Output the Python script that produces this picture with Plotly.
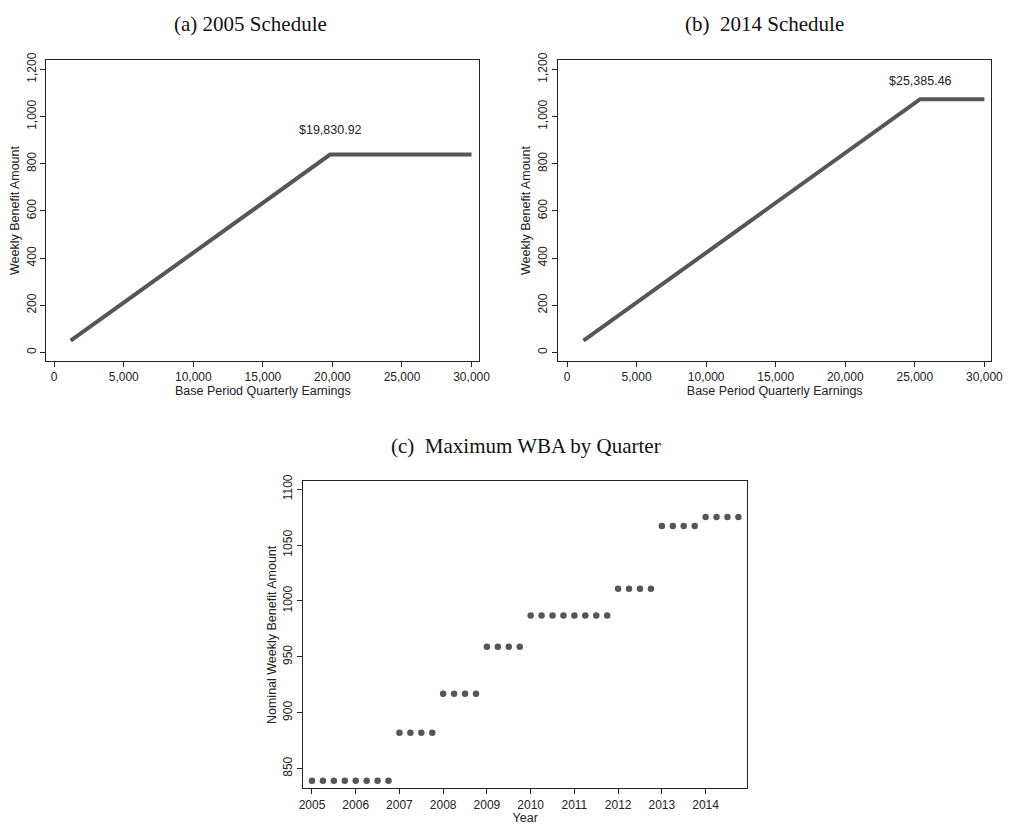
import plotly.graph_objects as go

W, H = 1019, 825

# Panel (a): 2005 schedule
a_earnings = [1181.82, 19830.92, 30000]
a_wba = [50, 839, 839]
a_kink_label = "$19,830.92"

# Panel (b): 2014 schedule
b_earnings = [1181.82, 25385.46, 30000]
b_wba = [50, 1074, 1074]
b_kink_label = "$25,385.46"

# Panel (c): maximum WBA by quarter
c_quarters = [2005.00, 2005.25, 2005.50, 2005.75, 2006.00, 2006.25, 2006.50, 2006.75,
              2007.00, 2007.25, 2007.50, 2007.75, 2008.00, 2008.25, 2008.50, 2008.75,
              2009.00, 2009.25, 2009.50, 2009.75, 2010.00, 2010.25, 2010.50, 2010.75,
              2011.00, 2011.25, 2011.50, 2011.75, 2012.00, 2012.25, 2012.50, 2012.75,
              2013.00, 2013.25, 2013.50, 2013.75, 2014.00, 2014.25, 2014.50, 2014.75]
c_max_wba = [839, 839, 839, 839, 839, 839, 839, 839,
             882, 882, 882, 882, 917, 917, 917, 917,
             959, 959, 959, 959, 987, 987, 987, 987,
             987, 987, 987, 987, 1011, 1011, 1011, 1011,
             1067, 1067, 1067, 1067, 1075, 1075, 1075, 1075]

sched_xticks = [0, 5000, 10000, 15000, 20000, 25000, 30000]
sched_yticks = [0, 200, 400, 600, 800, 1000, 1200]
c_xticks = [2005, 2006, 2007, 2008, 2009, 2010, 2011, 2012, 2013, 2014]
c_yticks = [850, 900, 950, 1000, 1050, 1100]

GRAY = "#565656"
FRAME = "#222222"
SANS = "Liberation Sans, Arial, Helvetica, sans-serif"
SERIF = "Liberation Serif, Times New Roman, serif"

def px(x):
    return x / W

def py(y):
    return 1 - y / H

fig = go.Figure()
fig.add_trace(go.Scatter(x=a_earnings, y=a_wba, mode="lines",
                         line=dict(color=GRAY, width=4), xaxis="x", yaxis="y",
                         showlegend=False, hoverinfo="skip"))
fig.add_trace(go.Scatter(x=b_earnings, y=b_wba, mode="lines",
                         line=dict(color=GRAY, width=4), xaxis="x2", yaxis="y2",
                         showlegend=False, hoverinfo="skip"))
fig.add_trace(go.Scatter(x=c_quarters, y=c_max_wba, mode="markers",
                         marker=dict(color=GRAY, size=6.5), xaxis="x3", yaxis="y3",
                         showlegend=False, hoverinfo="skip"))

def xax(domain, anchor, rng, ticks, fmt, title):
    return dict(domain=domain, anchor=anchor, range=rng, tickvals=ticks, tickformat=fmt,
                showline=True, linecolor=FRAME, linewidth=1, mirror=True,
                ticks="outside", ticklen=5, tickcolor=FRAME, showgrid=False, zeroline=False,
                tickfont=dict(family=SANS, size=12, color="#222"),
                title=dict(text=title, font=dict(family=SANS, size=12.5, color="#222"), standoff=3))

def yax(domain, anchor, rng, ticks, fmt, title):
    return dict(domain=domain, anchor=anchor, range=rng, tickvals=ticks, tickformat=fmt,
                showline=True, linecolor=FRAME, linewidth=1, mirror=True, tickangle=-90,
                ticks="outside", ticklen=5, tickcolor=FRAME, showgrid=False, zeroline=False,
                tickfont=dict(family=SANS, size=12, color="#222"),
                title=dict(text=title, font=dict(family=SANS, size=12.5, color="#222"), standoff=2))

top_dom = [py(356), py(53)]
fig.update_layout(
    width=W, height=H, margin=dict(l=0, r=0, t=0, b=0),
    paper_bgcolor="white", plot_bgcolor="white",
    xaxis=xax([px(43), px(483)], "y", [-566, 30566], sched_xticks, ",", "Base Period Quarterly Earnings"),
    yaxis=yax(top_dom, "x", [-34, 1238], sched_yticks, ",", "Weekly Benefit Amount"),
    xaxis2=xax([px(563), px(1003)], "y2", [-637, 30495], sched_xticks, ",", "Base Period Quarterly Earnings"),
    yaxis2=yax(top_dom, "x2", [-34, 1238], sched_yticks, ",", "Weekly Benefit Amount"),
    xaxis3=xax([px(304), px(755)], "y3", [2004.8, 2014.95], c_xticks, "d", "Year"),
    yaxis3=yax([py(788), py(478)], "x3", [832.3, 1107], c_yticks, "d", "Nominal Weekly Benefit Amount"),
)

ann_font = dict(family=SANS, size=12.5, color="#222")
fig.add_annotation(x=a_earnings[1], y=945, xref="x", yref="y", text=a_kink_label,
                   showarrow=False, font=ann_font)
fig.add_annotation(x=b_earnings[1], y=1152, xref="x2", yref="y2", text=b_kink_label,
                   showarrow=False, font=ann_font)

title_font = dict(family=SERIF, size=21, color="#111")
for text, cx, cy in [("(a) 2005 Schedule", 250, 16), ("(b)  2014 Schedule", 773, 16),
                     ("(c)  Maximum WBA by Quarter", 530, 442)]:
    fig.add_annotation(x=px(cx), y=py(cy), xref="paper", yref="paper", text=text,
                       showarrow=False, font=title_font, xanchor="center", yanchor="middle")

fig.write_html("out.html")
